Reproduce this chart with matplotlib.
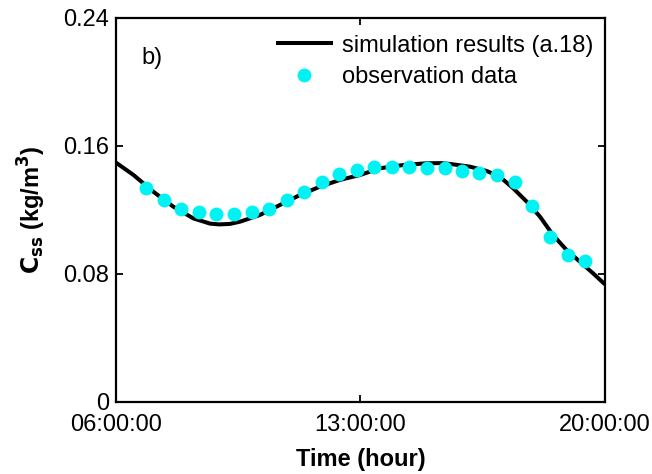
import matplotlib
matplotlib.use("Agg")
import matplotlib.pyplot as plt

plt.rcParams['font.family'] = ['Liberation Sans', 'DejaVu Sans']

# Simulation curve (time in hours, concentration kg/m^3)
sim_time = [6.0, 6.5, 7.07, 7.64, 8.21, 8.69, 8.95, 9.26, 9.55, 10.12, 10.69, 11.27,
            11.84, 12.41, 12.99, 13.56, 14.22, 14.89, 15.3, 15.56, 16.13, 16.61,
            16.99, 17.37, 17.76, 18.14, 18.51, 18.9, 19.28, 19.66, 20.0]
sim_conc = [0.1496, 0.1419, 0.1314, 0.1221, 0.1148, 0.1115, 0.1110, 0.1113, 0.1127,
            0.1169, 0.1231, 0.1294, 0.1346, 0.1388, 0.1419, 0.1461, 0.1481, 0.1492,
            0.1493, 0.1488, 0.1471, 0.1444, 0.1408, 0.1336, 0.1252, 0.1158, 0.1044,
            0.0950, 0.0877, 0.0804, 0.0735]

# Observation data
obs_time = [6.87, 7.37, 7.87, 8.37, 8.87, 9.38, 9.88, 10.38, 10.89, 11.39, 11.9, 12.39,
            12.89, 13.39, 13.9, 14.4, 14.9, 15.41, 15.9, 16.4, 16.91, 17.42, 17.91,
            18.42, 18.93, 19.43]
obs_conc = [0.134, 0.126, 0.1204, 0.119, 0.1175, 0.1173, 0.1188, 0.1204, 0.1263, 0.1314,
            0.1377, 0.1423, 0.1448, 0.1471, 0.1467, 0.1467, 0.1463, 0.1463, 0.1444,
            0.1433, 0.1421, 0.1377, 0.1225, 0.1033, 0.0919, 0.0883]

x_ticks = [6, 13, 20]
x_ticklabels = ["06:00:00", "13:00:00", "20:00:00"]
y_ticks = [0, 0.08, 0.16, 0.24]
y_ticklabels = ["0", "0.08", "0.16", "0.24"]

fig = plt.figure(figsize=(6.52, 4.74), dpi=100)
ax = fig.add_axes([116/652, 1-402/474, (605-116)/652, (402-18)/474])

ax.plot(sim_time, sim_conc, color='black', lw=2.9, label='simulation results (a.18)',
        solid_capstyle='butt', zorder=2)
ax.plot(obs_time, obs_conc, 'o', color='#00f2f2', markersize=10, markeredgewidth=0,
        label='observation data', zorder=3)

ax.set_xlim(6, 20)
ax.set_ylim(0, 0.24)
ax.set_xticks(x_ticks)
ax.set_xticklabels(x_ticklabels)
ax.set_yticks(y_ticks)
ax.set_yticklabels(y_ticklabels)
ax.tick_params(direction='in', length=5, width=1.3, labelsize=17, top=True, right=True)
ax.tick_params(axis='x', pad=8.5)
ax.tick_params(axis='y', pad=5)
for s in ax.spines.values():
    s.set_linewidth(1.6)

ax.set_xlabel('Time (hour)', fontsize=17, fontweight='bold', labelpad=9)
ax.set_ylabel(r'$\mathbf{C_{ss}}$ (kg/m$^\mathbf{3}$)', fontsize=17, fontweight='bold', labelpad=11)

ax.text(0.053, 0.896, 'b)', transform=ax.transAxes, fontsize=17, va='center', ha='left')

leg = ax.legend(loc='upper right', bbox_to_anchor=(1.0 + 5/489, 1.0), frameon=False, fontsize=17,
                handlelength=2.4, handletextpad=0.4, labelspacing=0.4, borderaxespad=0.3,
                numpoints=1)

fig.savefig('out.png', dpi=100)
